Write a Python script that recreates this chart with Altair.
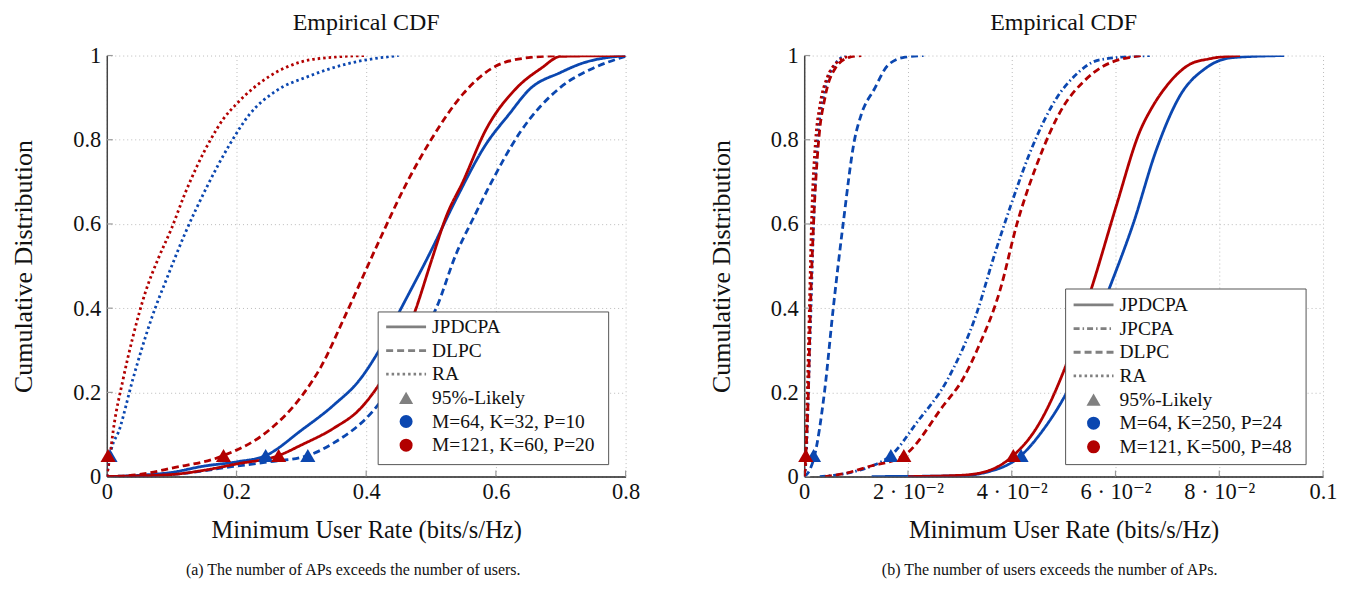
import altair as alt
import pandas as pd

BLUE = "#0B47B0"
RED = "#B20000"
GRAY = "#808080"
FONT = "Liberation Serif, Times New Roman, Times, DejaVu Serif, serif"

# ---------------- Panel (a) data ----------------
A_JPDCPA_BLUE_X = [0, 0.05, 0.1, 0.15, 0.2, 0.245, 0.3, 0.35, 0.39, 0.42, 0.454, 0.498, 0.539, 0.585, 0.62, 0.652, 0.7, 0.73, 0.8]
A_JPDCPA_BLUE_Y = [0, 0.003, 0.01, 0.025, 0.035, 0.05, 0.11, 0.17, 0.23, 0.30, 0.40, 0.53, 0.66, 0.79, 0.86, 0.92, 0.96, 0.98, 1.0]
A_DLPC_BLUE_X = [0, 0.1, 0.195, 0.25, 0.31, 0.35, 0.41, 0.45, 0.48, 0.508, 0.539, 0.564, 0.59, 0.637, 0.7, 0.75, 0.8]
A_DLPC_BLUE_Y = [0, 0.005, 0.024, 0.035, 0.05, 0.08, 0.155, 0.24, 0.32, 0.40, 0.53, 0.61, 0.69, 0.817, 0.925, 0.97, 0.998]
A_RA_BLUE_X = [0, 0.005, 0.02, 0.04, 0.07, 0.095, 0.12, 0.155, 0.19, 0.22, 0.26, 0.31, 0.37, 0.45]
A_RA_BLUE_Y = [0, 0.05, 0.114, 0.23, 0.38, 0.48, 0.575, 0.69, 0.79, 0.86, 0.915, 0.95, 0.98, 1.0]
A_JPDCPA_RED_X = [0, 0.1, 0.15, 0.2, 0.265, 0.3, 0.35, 0.39, 0.416, 0.44, 0.46, 0.477, 0.5, 0.524, 0.549, 0.585, 0.63, 0.67, 0.70, 0.8]
A_JPDCPA_RED_Y = [0, 0.005, 0.015, 0.03, 0.05, 0.075, 0.115, 0.16, 0.21, 0.27, 0.33, 0.40, 0.51, 0.62, 0.70, 0.825, 0.92, 0.97, 0.998, 1.0]
A_DLPC_RED_X = [0, 0.05, 0.1, 0.18, 0.25, 0.3, 0.33, 0.367, 0.42, 0.46, 0.5, 0.55, 0.6, 0.65, 0.7]
A_DLPC_RED_Y = [0, 0.005, 0.02, 0.05, 0.11, 0.19, 0.26, 0.38, 0.56, 0.69, 0.80, 0.91, 0.975, 0.995, 1.0]
A_RA_RED_X = [0, 0.005, 0.01, 0.025, 0.04, 0.06, 0.08, 0.1, 0.12, 0.14, 0.16, 0.18, 0.2, 0.25, 0.3, 0.35, 0.4]
A_RA_RED_Y = [0, 0.05, 0.11, 0.23, 0.33, 0.44, 0.52, 0.59, 0.67, 0.74, 0.80, 0.85, 0.885, 0.95, 0.985, 0.996, 1.0]
A_TRI_BLUE_X = [0.005, 0.245, 0.31]
A_TRI_RED_X = [0.002, 0.18, 0.265]

# ---------------- Panel (b) data ----------------
B_JPDCPA_BLUE_X = [0.013, 0.03, 0.035, 0.0418, 0.046, 0.0506, 0.0589, 0.0634, 0.0679, 0.0724, 0.0775, 0.0825, 0.0925]
B_JPDCPA_BLUE_Y = [0, 0.002, 0.01, 0.05, 0.11, 0.2, 0.45, 0.6, 0.777, 0.904, 0.971, 0.995, 1.0]
B_JPCPA_BLUE_X = [0.003, 0.009, 0.013, 0.0167, 0.0218, 0.0276, 0.0333, 0.0365, 0.0397, 0.0442, 0.0487, 0.052, 0.057, 0.0666]
B_JPCPA_BLUE_Y = [0, 0.01, 0.025, 0.05, 0.13, 0.23, 0.39, 0.52, 0.64, 0.79, 0.90, 0.95, 0.99, 1.0]
B_DLPC_BLUE_X = [0, 0.0008, 0.002, 0.0039, 0.0056, 0.0075, 0.0097, 0.011, 0.0135, 0.016, 0.019, 0.023]
B_DLPC_BLUE_Y = [0, 0.01, 0.05, 0.2, 0.4, 0.6, 0.8, 0.86, 0.92, 0.975, 0.995, 1.0]
B_RA_BLUE_X = [0, 0.0004, 0.0008, 0.0013, 0.0018, 0.0026, 0.004, 0.006, 0.008]
B_RA_BLUE_Y = [0, 0.05, 0.2, 0.4, 0.6, 0.8, 0.92, 0.98, 1.0]
B_JPDCPA_RED_X = [0.02, 0.03, 0.035, 0.0403, 0.045, 0.05, 0.0557, 0.0602, 0.0647, 0.0672, 0.0698, 0.0743, 0.078, 0.084]
B_JPDCPA_RED_Y = [0, 0.003, 0.012, 0.05, 0.12, 0.25, 0.46, 0.645, 0.82, 0.88, 0.927, 0.979, 0.992, 1.0]
B_JPCPA_RED_X = [0.004, 0.008, 0.0122, 0.0192, 0.0269, 0.0305, 0.0333, 0.0378, 0.041, 0.0448, 0.05, 0.054, 0.0577, 0.065]
B_JPCPA_RED_Y = [0, 0.008, 0.023, 0.05, 0.17, 0.23, 0.30, 0.445, 0.60, 0.74, 0.88, 0.94, 0.975, 1.0]
B_DLPC_RED_X = [0, 0.0003, 0.0008, 0.0012, 0.0018, 0.0028, 0.004, 0.006, 0.0085, 0.011]
B_DLPC_RED_Y = [0, 0.05, 0.2, 0.4, 0.6, 0.8, 0.9, 0.97, 0.995, 1.0]
B_RA_RED_X = [0, 0.0003, 0.0006, 0.001, 0.0014, 0.0022, 0.003, 0.0045, 0.006, 0.009]
B_RA_RED_Y = [0, 0.05, 0.2, 0.4, 0.6, 0.8, 0.88, 0.95, 0.98, 1.0]
B_TRI_BLUE_X = [0.0018, 0.0167, 0.0418]
B_TRI_RED_X = [0.0003, 0.0192, 0.0403]

TRI_Y = 0.05
Y_TICKS = [0, 0.2, 0.4, 0.6, 0.8, 1]
A_X_TICKS = [0, 0.2, 0.4, 0.6, 0.8]
B_X_TICKS = [0, 0.02, 0.04, 0.06, 0.08, 0.1]

A_LEGEND = ["JPDCPA", "DLPC", "RA", "95%-Likely", "M=64, K=32, P=10", "M=121, K=60, P=20"]
B_LEGEND = ["JPDCPA", "JPCPA", "DLPC", "RA", "95%-Likely", "M=64, K=250, P=24", "M=121, K=500, P=48"]

STYLES = ["solid", "dashdot", "dashed", "dotted"]
DASHES = [[1, 0], [6, 3, 1.5, 3], [7, 4], [2.5, 3]]

W, H = 520, 422


def build_lines(series):
    rows = []
    for sid, (cfg, style, xs, ys) in enumerate(series):
        for i, (x, y) in enumerate(zip(xs, ys)):
            rows.append({"sid": sid, "config": cfg, "style": style, "idx": i, "x": x, "y": y})
    return pd.DataFrame(rows)


def panel(series, tri_blue, tri_red, xdomain, xticks, xlabelexpr, legend_labels,
          legend_styles, box, row0, caption, cap_dx):
    df = build_lines(series)
    tri = pd.DataFrame(
        [{"x": x, "y": TRI_Y, "config": "blue"} for x in tri_blue]
        + [{"x": x, "y": TRI_Y, "config": "red"} for x in tri_red]
    )
    xs = alt.Scale(domain=xdomain, nice=False, zero=False)
    ys = alt.Scale(domain=[0, 1], nice=False)
    cscale = alt.Scale(domain=["blue", "red"], range=[BLUE, RED])
    dscale = alt.Scale(domain=STYLES, range=DASHES)

    xaxis = alt.Axis(values=xticks, labelExpr=xlabelexpr, title="Minimum User Rate (bits/s/Hz)",
                     grid=True, gridDash=[1, 3], gridColor="#bbbbbb", ticks=False,
                     domainColor="#222222", domainWidth=1.5, labelFont=FONT, labelFontSize=22.5,
                     labelColor="#111", labelPadding=4, titleFont=FONT, titleFontSize=24.5,
                     titleFontWeight="normal", titleColor="#111", titlePadding=16, labelFlush=False)
    yaxis = alt.Axis(values=Y_TICKS, format="~g", title="Cumulative Distribution",
                     grid=True, gridDash=[1, 3], gridColor="#bbbbbb", ticks=False,
                     domainColor="#444444", domainWidth=1.5, labelFont=FONT, labelFontSize=22.5,
                     labelColor="#111", labelPadding=6, titleFont=FONT, titleFontSize=26,
                     titleFontWeight="normal", titleColor="#111", titlePadding=36, labelFlush=False)

    lines = alt.Chart(df).mark_line(strokeWidth=2.8, clip=True, strokeCap="butt",
                                    interpolate="monotone").encode(
        x=alt.X("x:Q", scale=xs, axis=xaxis),
        y=alt.Y("y:Q", scale=ys, axis=yaxis),
        color=alt.Color("config:N", scale=cscale, legend=None),
        strokeDash=alt.StrokeDash("style:N", scale=dscale, legend=None),
        detail="sid:N",
        order="idx:Q",
    )
    tris = alt.Chart(tri).mark_point(shape="triangle-up", filled=True, size=230, opacity=1).encode(
        x=alt.X("x:Q", scale=xs), y=alt.Y("y:Q", scale=ys),
        color=alt.Color("config:N", scale=cscale, legend=None),
    )
    ytk = alt.Chart(pd.DataFrame({"v": Y_TICKS})).mark_rule(color="#999", strokeWidth=1.2).encode(
        y=alt.Y("v:Q", scale=ys), x=alt.value(0), x2=alt.value(6))
    xtk = alt.Chart(pd.DataFrame({"v": xticks})).mark_rule(color="#999", strokeWidth=1.2).encode(
        x=alt.X("v:Q", scale=xs), y=alt.value(H), y2=alt.value(H - 6))

    # legend (layout in pixels)
    n = len(legend_labels)
    step = 23.7
    lg = pd.DataFrame({
        "label": legend_labels,
        "ly": [row0 + i * step for i in range(n)],
        "style": legend_styles,
    })
    lx0 = box[0] + 8
    rect = alt.Chart(pd.DataFrame({"a": [0]})).mark_rect(fill="white", stroke="#555", strokeWidth=1).encode(
        x=alt.value(box[0]), x2=alt.value(box[1]), y=alt.value(box[2]), y2=alt.value(box[3]))
    lines_lg = alt.Chart(lg[lg["style"] != "none"]).mark_rule(color=GRAY, strokeWidth=2.8, strokeCap="butt").encode(
        x=alt.value(lx0), x2=alt.value(lx0 + 40),
        y=alt.Y("ly:Q", scale=None, axis=None),
        strokeDash=alt.StrokeDash("style:N", scale=dscale, legend=None),
    )
    nl = len(legend_labels)
    tri_lg = alt.Chart(lg.iloc[[nl - 3]]).mark_point(shape="triangle-up", filled=True, size=200, color=GRAY, opacity=1).encode(
        x=alt.value(lx0 + 20), y=alt.Y("ly:Q", scale=None, axis=None))
    blue_lg = alt.Chart(lg.iloc[[nl - 2]]).mark_point(shape="circle", filled=True, size=170, color=BLUE, opacity=1).encode(
        x=alt.value(lx0 + 20), y=alt.Y("ly:Q", scale=None, axis=None))
    red_lg = alt.Chart(lg.iloc[[nl - 1]]).mark_point(shape="circle", filled=True, size=170, color=RED, opacity=1).encode(
        x=alt.value(lx0 + 20), y=alt.Y("ly:Q", scale=None, axis=None))
    txt = alt.Chart(lg).mark_text(align="left", baseline="middle", font=FONT, fontSize=19.5, color="#111").encode(
        x=alt.value(lx0 + 46), y=alt.Y("ly:Q", scale=None, axis=None), text="label:N")

    layer = alt.layer(ytk, xtk, lines, tris, rect, lines_lg, tri_lg, blue_lg, red_lg, txt).properties(
        width=W, height=H,
        title=alt.TitleParams("Empirical CDF", font=FONT, fontSize=24, fontWeight="normal",
                              color="#111", anchor="middle", frame="group", offset=10),
    )
    return alt.vconcat(layer).properties(
        title=alt.TitleParams(caption, orient="bottom", font=FONT, fontSize=16, fontWeight="normal",
                              color="#111", anchor="middle", offset=20, dx=cap_dx)
    )


series_a = [
    ("blue", "solid", A_JPDCPA_BLUE_X, A_JPDCPA_BLUE_Y),
    ("blue", "dashed", A_DLPC_BLUE_X, A_DLPC_BLUE_Y),
    ("blue", "dotted", A_RA_BLUE_X, A_RA_BLUE_Y),
    ("red", "solid", A_JPDCPA_RED_X, A_JPDCPA_RED_Y),
    ("red", "dashed", A_DLPC_RED_X, A_DLPC_RED_Y),
    ("red", "dotted", A_RA_RED_X, A_RA_RED_Y),
]
series_b = [
    ("blue", "solid", B_JPDCPA_BLUE_X, B_JPDCPA_BLUE_Y),
    ("blue", "dashdot", B_JPCPA_BLUE_X, B_JPCPA_BLUE_Y),
    ("blue", "dashed", B_DLPC_BLUE_X, B_DLPC_BLUE_Y),
    ("blue", "dotted", B_RA_BLUE_X, B_RA_BLUE_Y),
    ("red", "solid", B_JPDCPA_RED_X, B_JPDCPA_RED_Y),
    ("red", "dashed", B_JPCPA_RED_X, B_JPCPA_RED_Y),
    ("red", "dashed", B_DLPC_RED_X, B_DLPC_RED_Y),
    ("red", "dotted", B_RA_RED_X, B_RA_RED_Y),
]

left = panel(series_a, A_TRI_BLUE_X, A_TRI_RED_X, [0, 0.8], A_X_TICKS, "format(datum.value, '~g')",
             A_LEGEND, ["solid", "dashed", "dotted", "none", "none", "none"],
             (272, 503, 257, 410), 272, "(a) The number of APs exceeds the number of users.", 28)
right = panel(series_b, B_TRI_BLUE_X, B_TRI_RED_X, [0, 0.1], B_X_TICKS,
              "datum.value == 0 ? '0' : (datum.value > 0.09 ? '0.1' : format(round(datum.value * 100), 'd') + ' · 10⁻²')",
              B_LEGEND, ["solid", "dashdot", "dashed", "dotted", "none", "none", "none"],
              (262, 503, 234, 410), 250, "(b) The number of users exceeds the number of APs.", 27)

chart = alt.hconcat(left, right, spacing=67).properties(
    padding={"left": 2, "top": 2, "right": 5, "bottom": 1}
).configure_view(stroke=None).configure_concat(spacing=67)

chart.save("out.html", embed_options={"renderer": "svg", "actions": False})
